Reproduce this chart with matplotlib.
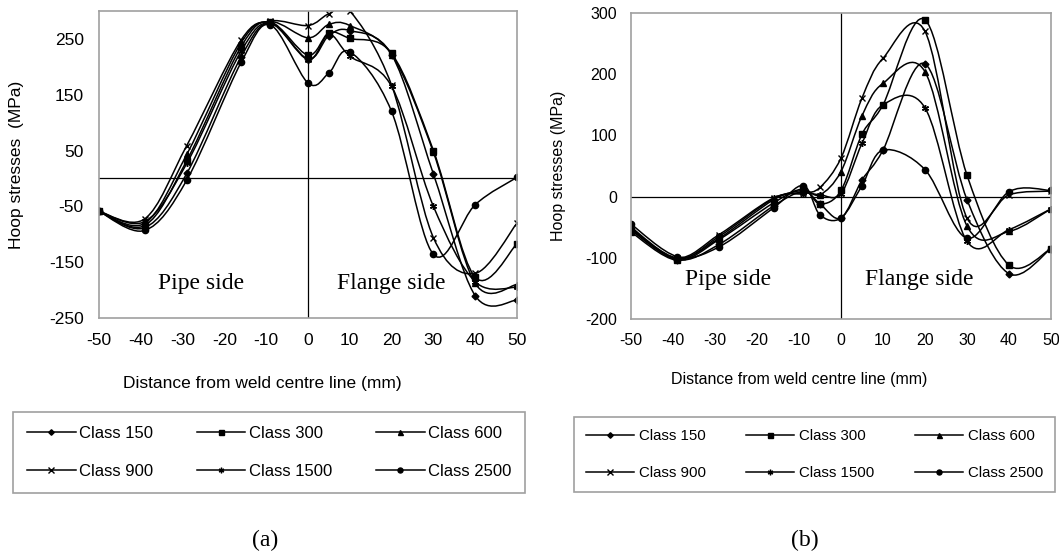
import numpy as np
import matplotlib
matplotlib.use("Agg")
import matplotlib.pyplot as plt
from matplotlib.path import Path
from matplotlib.patches import PathPatch
from matplotlib.lines import Line2D

# Datos (a): distancia (mm) y esfuerzo circunferencial (MPa)
dist_a = [-50, -39, -29, -16, -9, 0, 5, 10, 20, 30, 40, 50]
a_150 = [-59, -88, 9, 218, 278, 214, 256, 265, 222, 8, -210, -218]
a_300 = [-59, -84, 32, 236, 280, 221, 261, 251, 224, 50, -177, -117]
a_600 = [-59, -80, 43, 243, 281, 252, 276, 274, 222, 47, -188, -190]
a_900 = [-59, -72, 59, 248, 282, 274, 295, 300, 167, -106, -170, -80]
a_1500 = [-59, -77, 27, 228, 278, 213, 258, 219, 165, -50, -185, -195]
a_2500 = [-59, -93, -3, 208, 275, 171, 189, 227, 120, -136, -47, 2]

# Datos (b)
dist_b = [-50, -39, -29, -16, -9, -5, 0, 5, 10, 20, 30, 40, 50]
b_150 = [-55, -103, -78, -15, 8, -12, -35, 27, 76, 217, -5, -126, -85]
b_300 = [-58, -104, -70, -10, 12, -12, 10, 102, 150, 289, 35, -112, -85]
b_600 = [-52, -101, -68, -5, 10, 3, 41, 132, 185, 204, -48, -57, -20]
b_900 = [-50, -100, -62, -2, 5, 15, 63, 161, 226, 270, -35, 3, 9]
b_1500 = [-53, -102, -65, -3, 6, 3, 5, 87, 150, 145, -73, -54, -20]
b_2500 = [-45, -98, -82, -18, 18, -30, -35, 18, 76, 44, -68, 8, 10]

clases = ["Class 150", "Class 300", "Class 600", "Class 900", "Class 1500", "Class 2500"]
marcadores = ["D", "s", "^", "x", (6, 2, 0), "o"]
tam_marcador = [3.5, 4.5, 4.5, 5, 5, 4.5]

SANS = "Liberation Sans"
SERIF = "Liberation Serif"
GRIS = "#a0a0a0"

plt.rcParams["axes.unicode_minus"] = False


def curva_suave(x, y):
    # Curva suavizada tipo Excel (Catmull-Rom como Bezier cubica)
    pts = np.column_stack([x, y]).astype(float)
    n = len(pts)
    verts = [pts[0]]
    codes = [Path.MOVETO]
    for i in range(n - 1):
        p0 = pts[i - 1] if i > 0 else pts[i]
        p1 = pts[i]
        p2 = pts[i + 1]
        p3 = pts[i + 2] if i + 2 < n else pts[i + 1]
        verts += [p1 + (p2 - p0) / 6, p2 - (p3 - p1) / 6, p2]
        codes += [Path.CURVE4] * 3
    return Path(verts, codes)


def graficar(ax, x, series, ylim, yticks, fs_tick, pad_x, pad_y):
    for y, m, ms in zip(series, marcadores, tam_marcador):
        ax.add_patch(PathPatch(curva_suave(x, y), facecolor="none",
                               edgecolor="black", lw=1.1))
        ax.plot(x, y, linestyle="none", marker=m, ms=ms, color="black",
                mew=1.0)
    ax.axhline(0, color="black", lw=0.9)
    ax.axvline(0, color="black", lw=0.9)
    ax.set_xlim(-50, 50)
    ax.set_ylim(*ylim)
    ax.set_xticks(range(-50, 51, 10))
    ax.set_yticks(yticks)
    for s in ax.spines.values():
        s.set_color(GRIS)
        s.set_linewidth(1.2)
    ax.tick_params(axis="x", length=0, pad=pad_x, labelsize=fs_tick)
    ax.tick_params(axis="y", length=0, pad=pad_y, labelsize=fs_tick)
    for lbl in ax.get_xticklabels() + ax.get_yticklabels():
        lbl.set_fontfamily(SANS)


def leyenda(ax, x0, top, fs, borderpad, labelspacing, handlelength, textpad,
            colspacing):
    W, H = ax.figure.get_size_inches() * ax.figure.dpi
    handles = [Line2D([0], [0], color="black", lw=1.1, marker=m, ms=ms * 0.8)
               for m, ms in zip(marcadores, tam_marcador)]
    # orden por filas (Excel): 150, 300, 600 / 900, 1500, 2500
    orden = [0, 3, 1, 4, 2, 5]
    leg = ax.legend([handles[i] for i in orden], [clases[i] for i in orden],
                    ncol=3, bbox_to_anchor=(x0 / W, 1 - top / H),
                    bbox_transform=ax.figure.transFigure, loc="upper left",
                    fancybox=False, edgecolor=GRIS, framealpha=1,
                    prop={"family": SANS, "size": fs}, borderpad=borderpad,
                    labelspacing=labelspacing, handlelength=handlelength,
                    handletextpad=textpad, columnspacing=colspacing,
                    numpoints=1, borderaxespad=0)
    leg.get_frame().set_linewidth(1.2)


def main():
    W, H = 1059, 558
    fig = plt.figure(figsize=(W / 100, H / 100), dpi=100)

    # Figura (a)
    ax1 = fig.add_axes([99 / W, 1 - 318 / H, 418 / W, 307 / H])
    graficar(ax1, dist_a, [a_150, a_300, a_600, a_900, a_1500, a_2500],
             (-250, 300), [-250, -150, -50, 50, 150, 250], 12.5, 11, 11)
    ax1.set_ylabel("Hoop stresses  (MPa)", fontfamily=SANS, fontsize=12.5)
    ax1.yaxis.set_label_coords(-0.179, 0.5)
    ax1.set_xlabel("Distance from weld centre line (mm)", fontfamily=SANS,
                   fontsize=12.5)
    ax1.xaxis.set_label_coords(0.39, -0.189)
    ax1.text(-25.5, -188, "Pipe side", fontfamily=SERIF, fontsize=17,
             ha="center", va="center")
    ax1.text(20, -188, "Flange side", fontfamily=SERIF, fontsize=17,
             ha="center", va="center")
    leyenda(ax1, 13, 412, 12, 0.85, 1.35, 2.9, 0.2, 2.65)

    # Figura (b)
    ax2 = fig.add_axes([631 / W, 1 - 319 / H, 420 / W, 306 / H])
    graficar(ax2, dist_b, [b_150, b_300, b_600, b_900, b_1500, b_2500],
             (-200, 300), list(range(-200, 301, 100)), 11.5, 10, 10)
    ax2.set_ylabel("Hoop stresses (MPa)", fontfamily=SANS, fontsize=11.5)
    ax2.yaxis.set_label_coords(-0.155, 0.5)
    ax2.set_xlabel("Distance from weld centre line (mm)", fontfamily=SANS,
                   fontsize=11.5)
    ax2.xaxis.set_label_coords(0.40, -0.173)
    ax2.text(-27, -135, "Pipe side", fontfamily=SERIF, fontsize=17,
             ha="center", va="center")
    ax2.text(18.6, -135, "Flange side", fontfamily=SERIF, fontsize=17,
             ha="center", va="center")
    leyenda(ax2, 574, 417, 10.8, 0.8, 1.55, 3.2, 0.33, 2.7)

    fig.text(265 / W, 1 - 540 / H, "(a)", fontfamily=SERIF, fontsize=17,
             ha="center", va="center")
    fig.text(805 / W, 1 - 540 / H, "(b)", fontfamily=SERIF, fontsize=17,
             ha="center", va="center")

    fig.savefig("out.png", dpi=100)


if '__main__' == __name__:
    main()
